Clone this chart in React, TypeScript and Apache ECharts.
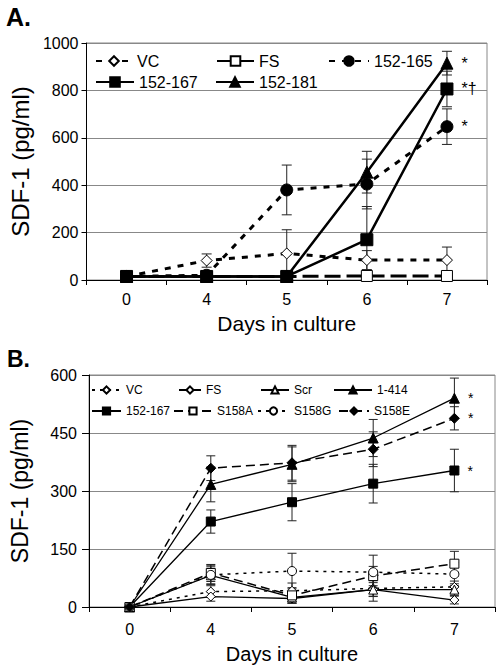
import React, { useEffect, useRef } from 'react';
import * as echarts from 'echarts';

// ---------- data ----------
const days = ['0', '4', '5', '6', '7'];

// Panel A (pg/ml)
const aVC = [15, 82, 112, 84, 84];
const aVCErr = [0, 28, 100, 40, 55];
const aFS = [15, 15, 15, 17, 17];
const aFSErr = [0, 5, 5, 10, 5];
const a165 = [15, 20, 380, 405, 647];
const a165Err = [0, 10, 105, 105, 75];
const a167 = [15, 15, 15, 170, 806];
const a167Err = [0, 5, 5, 140, 75];
const a181 = [15, 15, 15, 455, 915];
const a181Err = [0, 5, 5, 88, 50];
const aMarks181 = ['', '', '', '', '*'];
const aMarks167 = ['', '', '', '', '*†'];
const aMarks165 = ['', '', '', '', '*'];

// Panel B (pg/ml)
const bVC = [0, 40, 42, 48, 52];
const bVCErr = [0, 15, 20, 20, 15];
const bFS = [0, 27, 22, 45, 18];
const bFSErr = [0, 12, 12, 18, 10];
const bScr = [0, 82, 25, 45, 45];
const bScrErr = [0, 22, 15, 30, 15];
const b1414 = [0, 317, 369, 437, 540];
const b1414Err = [0, 45, 45, 48, 52];
const b167 = [0, 221, 271, 319, 353];
const b167Err = [0, 30, 48, 50, 55];
const bS158A = [0, 88, 30, 80, 112];
const bS158AErr = [0, 22, 20, 25, 32];
const bS158G = [0, 83, 93, 90, 85];
const bS158GErr = [0, 25, 46, 44, 30];
const bS158E = [0, 359, 373, 408, 488];
const bS158EErr = [0, 32, 45, 45, 30];
const bMarks1414 = ['', '', '', '', '*'];
const bMarksS158E = ['', '', '', '', '*'];
const bMarks167 = ['', '', '', '', '*'];

const FONT = "'Liberation Sans', Arial, Helvetica, sans-serif";

function lineSeries(
  name: string,
  values: number[],
  marks: string[] | null,
  axis: number,
  symbol: string,
  symbolSize: number,
  filled: boolean,
  lineWidth: number,
  lineType: any,
  labelSize: number
) {
  return {
    type: 'line',
    name,
    xAxisIndex: axis,
    yAxisIndex: axis,
    symbol,
    symbolSize,
    showAllSymbol: true,
    z: 3,
    itemStyle: { color: filled ? '#000' : '#fff', borderColor: '#000', borderWidth: 1 },
    lineStyle: { color: '#000', width: lineWidth, type: lineType },
    emphasis: { disabled: true },
    data: values.map((v, i) =>
      marks && marks[i]
        ? {
            value: v,
            label: {
              show: true,
              position: 'right',
              distance: 8,
              formatter: marks[i],
              fontSize: labelSize,
              fontFamily: FONT,
              color: '#000',
            },
          }
        : v
    ),
  };
}

function errSeries(values: number[], errs: number[], axis: number, cap: number) {
  const data: number[][] = [];
  values.forEach((v, i) => {
    if (errs[i] > 0) data.push([i, v - errs[i], v + errs[i]]);
  });
  return {
    type: 'custom',
    xAxisIndex: axis,
    yAxisIndex: axis,
    z: 2,
    silent: true,
    encode: { x: 0, y: [1, 2] },
    data,
    renderItem: (params: any, api: any) => {
      const x = api.value(0);
      const p1 = api.coord([x, api.value(1)]);
      const p2 = api.coord([x, api.value(2)]);
      const hw = cap / 2;
      const style = { stroke: '#222', lineWidth: 1 };
      return {
        type: 'group',
        children: [
          { type: 'line', shape: { x1: p1[0], y1: p1[1], x2: p2[0], y2: p2[1] }, style },
          { type: 'line', shape: { x1: p1[0] - hw, y1: p1[1], x2: p1[0] + hw, y2: p1[1] }, style },
          { type: 'line', shape: { x1: p2[0] - hw, y1: p2[1], x2: p2[0] + hw, y2: p2[1] }, style },
        ],
      };
    },
  };
}

function legendItem(name: string, left: number, top: number, itemWidth: number, itemHeight: number, fontSize: number) {
  return {
    data: [name],
    left,
    top,
    padding: 0,
    itemGap: 0,
    itemWidth,
    itemHeight,
    selectedMode: false,
    formatter: (n: string) => n.replace(/^B:/, ''),
    textStyle: { fontSize, fontFamily: FONT, color: '#000', padding: [0, 0, 0, 0] },
  };
}

export default function App() {
  const ref = useRef<HTMLDivElement>(null);
  useEffect(() => {
    if (!ref.current) return;
    const chart = echarts.init(ref.current, undefined, { renderer: 'svg' });

    const xAxisBase = (gridIndex: number, labelMargin: number, nameGap: number, nameSize: number) => ({
      type: 'category',
      gridIndex,
      data: days,
      boundaryGap: true,
      axisLine: { show: true, lineStyle: { color: '#000', width: 1 } },
      axisTick: { show: true, length: 5, lineStyle: { color: '#000' } },
      axisLabel: { fontSize: 16, fontFamily: FONT, color: '#000', margin: labelMargin },
      splitLine: { show: false },
      name: 'Days in culture',
      nameLocation: 'middle',
      nameGap,
      nameTextStyle: { fontSize: nameSize, fontFamily: FONT, color: '#000' },
    });

    const yAxisBase = (gridIndex: number, max: number, interval: number, tickLen: number, labelMargin: number, nameGap: number, nameSize: number) => ({
      type: 'value',
      gridIndex,
      min: 0,
      max,
      interval,
      axisLine: { show: true, lineStyle: { color: '#000', width: 1 } },
      axisTick: { show: true, length: tickLen, lineStyle: { color: '#000' } },
      axisLabel: { fontSize: 16, fontFamily: FONT, color: '#000', margin: labelMargin, formatter: (v: number) => String(v) },
      splitLine: { show: true, lineStyle: { color: '#888', width: 1 } },
      name: 'SDF-1 (pg/ml)',
      nameLocation: 'middle',
      nameRotate: 90,
      nameGap,
      nameTextStyle: { fontSize: nameSize, fontFamily: FONT, color: '#000' },
    });

    const option: any = {
      animation: false,
      backgroundColor: '#fff',
      title: [
        { text: 'A.', left: 6, top: 4, padding: 0, textStyle: { fontSize: 25, fontWeight: 'bold', fontFamily: FONT, color: '#000' } },
        { text: 'B.', left: 7, top: 347, padding: 0, textStyle: { fontSize: 23, fontWeight: 'bold', fontFamily: FONT, color: '#000' } },
      ],
      grid: [
        { left: 77, top: 43, width: 410, height: 237, show: true, borderColor: '#888', borderWidth: 1, backgroundColor: 'transparent' },
        { left: 88, top: 375, width: 407, height: 232, show: true, borderColor: '#888', borderWidth: 1, backgroundColor: 'transparent' },
      ],
      xAxis: [xAxisBase(0, 11, 33, 21), xAxisBase(1, 14, 37, 20)],
      yAxis: [yAxisBase(0, 1000, 200, 5, 8, 53, 24), yAxisBase(1, 600, 150, 7, 12, 58, 23)],
      legend: [
        legendItem('VC', 95, 53, 36, 12, 16),
        legendItem('FS', 216, 53, 37, 12, 16),
        legendItem('152-165', 328, 53, 40, 12, 16),
        legendItem('152-167', 95, 74, 38, 12, 16),
        legendItem('152-181', 215, 74, 38, 12, 16),
        legendItem('B:VC', 91, 384, 29, 9, 12),
        legendItem('B:FS', 178, 384, 22, 9, 12),
        legendItem('B:Scr', 260, 384, 28, 9, 12),
        legendItem('B:1-414', 333, 384, 38, 9, 12),
        legendItem('B:152-167', 91, 405, 29, 9, 12),
        legendItem('B:S158A', 173, 405, 38, 9, 12),
        legendItem('B:S158G', 257, 405, 31, 9, 12),
        legendItem('B:S158E', 338, 405, 30, 9, 12),
      ],
      series: [
        // error bars, panel A
        errSeries(aVC, aVCErr, 0, 10),
        errSeries(aFS, aFSErr, 0, 10),
        errSeries(a165, a165Err, 0, 10),
        errSeries(a167, a167Err, 0, 10),
        errSeries(a181, a181Err, 0, 10),
        // lines, panel A
        lineSeries('VC', aVC, null, 0, 'diamond', 11, false, 3, [6, 7], 16),
        lineSeries('FS', aFS, null, 0, 'rect', 11, false, 3, [16, 6], 16),
        lineSeries('152-165', a165, aMarks165, 0, 'circle', 12, true, 3, [6, 7], 16),
        lineSeries('152-167', a167, aMarks167, 0, 'rect', 12, true, 2.5, 'solid', 16),
        lineSeries('152-181', a181, aMarks181, 0, 'triangle', 12, true, 2.5, 'solid', 16),
        // error bars, panel B
        errSeries(bVC, bVCErr, 1, 9),
        errSeries(bFS, bFSErr, 1, 9),
        errSeries(bScr, bScrErr, 1, 9),
        errSeries(b1414, b1414Err, 1, 9),
        errSeries(b167, b167Err, 1, 9),
        errSeries(bS158A, bS158AErr, 1, 9),
        errSeries(bS158G, bS158GErr, 1, 9),
        errSeries(bS158E, bS158EErr, 1, 9),
        // lines, panel B
        lineSeries('B:VC', bVC, null, 1, 'diamond', 9, false, 1.5, [3, 5], 14),
        lineSeries('B:FS', bFS, null, 1, 'diamond', 9, false, 1.3, 'solid', 14),
        lineSeries('B:Scr', bScr, null, 1, 'triangle', 9, false, 1.3, 'solid', 14),
        lineSeries('B:1-414', b1414, bMarks1414, 1, 'triangle', 10, true, 1.3, 'solid', 14),
        lineSeries('B:152-167', b167, bMarks167, 1, 'rect', 9, true, 1.3, 'solid', 14),
        lineSeries('B:S158A', bS158A, null, 1, 'rect', 9, false, 1.5, [9, 5], 14),
        lineSeries('B:S158G', bS158G, null, 1, 'circle', 9, false, 1.5, [3, 5], 14),
        lineSeries('B:S158E', bS158E, bMarksS158E, 1, 'diamond', 10, true, 1.5, [9, 5], 14),
      ],
    };
    chart.setOption(option);
    return () => chart.dispose();
  }, []);

  return (
    <div
      ref={ref}
      style={{ position: 'absolute', left: 0, top: 0, width: 498, height: 666, background: '#fff' }}
    />
  );
}
